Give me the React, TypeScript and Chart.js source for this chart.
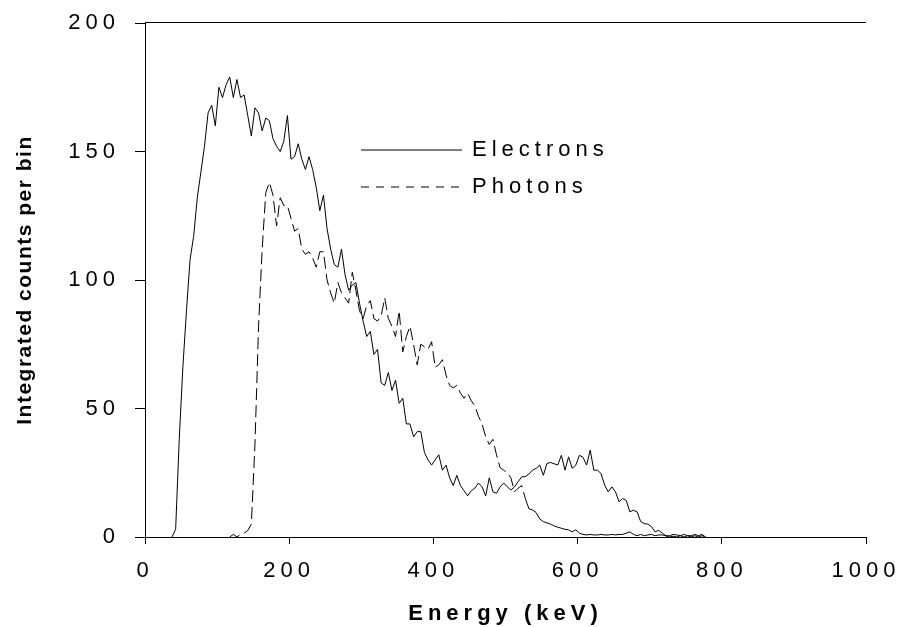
import React, { useEffect, useRef } from 'react';
import { Chart, registerables } from 'chart.js';

Chart.register(...registerables);

// ---------- data ----------
const ENERGY_KEV = [
  37.5, 42.5, 47.5, 52.5, 57.5, 62.5, 67.5, 72.5, 77.5, 82.5,
  87.5, 92.5, 97.5, 102.5, 107.5, 112.5, 117.5, 122.5, 127.5, 132.5,
  137.5, 142.5, 147.5, 152.5, 157.5, 162.5, 167.5, 172.5, 177.5, 182.5,
  187.5, 192.5, 197.5, 202.5, 207.5, 212.5, 217.5, 222.5, 227.5, 232.5,
  237.5, 242.5, 247.5, 252.5, 257.5, 262.5, 267.5, 272.5, 277.5, 282.5,
  287.5, 292.5, 297.5, 302.5, 307.5, 312.5, 317.5, 322.5, 327.5, 332.5,
  337.5, 342.5, 347.5, 352.5, 357.5, 362.5, 367.5, 372.5, 377.5, 382.5,
  387.5, 392.5, 397.5, 402.5, 407.5, 412.5, 417.5, 422.5, 427.5, 432.5,
  437.5, 442.5, 447.5, 452.5, 457.5, 462.5, 467.5, 472.5, 477.5, 482.5,
  487.5, 492.5, 497.5, 502.5, 507.5, 512.5, 517.5, 522.5, 527.5, 532.5,
  537.5, 542.5, 547.5, 552.5, 557.5, 562.5, 567.5, 572.5, 577.5, 582.5,
  587.5, 592.5, 597.5, 602.5, 607.5, 612.5, 617.5, 622.5, 627.5, 632.5,
  637.5, 642.5, 647.5, 652.5, 657.5, 662.5, 667.5, 672.5, 677.5, 682.5,
  687.5, 692.5, 697.5, 702.5, 707.5, 712.5, 717.5, 722.5, 727.5, 732.5,
  737.5, 742.5, 747.5, 752.5, 757.5, 762.5, 767.5, 772.5, 777.5,
];

const ELECTRONS = [
  0, 3, 38, 66, 88, 108, 117, 132, 142, 152,
  165, 168, 160, 175, 171, 176, 179, 171, 178, 171,
  172, 164, 156, 167, 165, 158, 163, 162, 155, 152,
  150, 154, 164, 147, 148, 153, 147, 143, 148, 143,
  136, 127, 133, 120, 112, 106, 105, 112, 102, 96,
  98, 99, 91, 84, 78, 80, 71, 73, 60, 59,
  64, 57, 61, 52, 54, 44, 44, 39, 41, 41,
  33, 30, 28, 30, 32, 26, 28, 23, 20, 24,
  20, 18, 16, 18, 19, 21, 19.5, 16, 23, 17.6,
  17, 19.5, 21, 19.5, 18.3, 19.5, 21.5, 23.4, 23.5, 24.5,
  26, 26.7, 28, 24, 28.6, 29, 28.5, 28, 31.8, 26,
  31.2, 26.7, 28, 31.8, 31, 28, 33.8, 26, 26, 24.7,
  20.2, 17.6, 19.5, 17.6, 13.7, 15, 14.2, 9.8, 10.4, 9.8,
  6, 5.2, 5, 4, 2, 2.6, 1.5, 0.4, 0, 0.3,
  0, 0.5, 0, 0.5, 0, 0.5, 0, 0.5, 0,
];

const PHOTONS: (number | null)[] = [
  null, null, null, null, null, null, null, null, null, null,
  null, null, null, null, null, null, 0, 1, 0, 1,
  1.5, 2.5, 5, 36, 82, 112, 134, 138, 133, 121,
  132, 129, 129, 124, 119, 120, 112, 110, 111, 108.5,
  105, 111, 111, 100, 95, 91, 99, 95, 93, 91,
  103, 96, 88, 85, 90, 92, 85, 84, 86, 93,
  85, 82, 78, 88, 72, 78, 82, 75, 67, 75,
  74, 73, 76, 66, 67, 69, 63, 59, 58, 59,
  56, 54, 56, 53, 51, 47, 44, 39, 36, 38,
  32, 27, 26, 25, 23, 17.6, 19, 20, 15, 11,
  10.5, 9.5, 7, 6, 5.5, 5, 4.3, 3.8, 3.4, 3,
  2.8, 2, 2.8, 1.5, 1, 0.8, 1, 0.8, 0.8, 1,
  0.8, 0.8, 1, 0.8, 1, 1, 1.5, 2, 1, 0.5,
  1, 0.5, 0.8, 1, 0.5, 0.8, 0.8, 0.5, 0.5, 1,
  0.8, 0.5, 1, 0.5, 0.5, 1, 0.5, 1, 0,
];

const SERIES_LABELS = ['Electrons', 'Photons'];
const X_TICKS = [0, 200, 400, 600, 800, 1000];
const Y_TICKS = [0, 50, 100, 150, 200];
const X_TITLE = 'Energy (keV)';
const Y_TITLE = 'Integrated counts per bin';

// ---------- styling ----------
const FONT_FAMILY = '"Liberation Sans", Arial, Helvetica, sans-serif';
const SPACED = '5px';
const PHOTON_DASH = [12, 5];

const spacingPlugin = {
  id: 'letterSpacing',
  beforeDraw(chart: any) {
    chart.ctx.letterSpacing = SPACED;
  },
  afterLayout(chart: any) {
    const ys = chart.scales.y;
    if (ys && !ys.__patched) {
      const orig = ys.drawTitle;
      ys.drawTitle = function (...args: any[]) {
        const c = this.ctx;
        const prev = c.letterSpacing;
        c.letterSpacing = '1.5px';
        orig.apply(this, args);
        c.letterSpacing = prev;
      };
      ys.__patched = true;
    }
  },
};

const framePlugin = {
  id: 'topFrame',
  afterDraw(chart: any) {
    const { ctx, chartArea } = chart;
    const y = Math.round(chartArea.top) - 0.5;
    ctx.save();
    ctx.strokeStyle = '#000';
    ctx.lineWidth = 1;
    ctx.setLineDash([]);
    ctx.beginPath();
    ctx.moveTo(chartArea.left, y);
    ctx.lineTo(chartArea.right, y);
    ctx.stroke();
    ctx.restore();
  },
};

const legendPlugin = {
  id: 'insetLegend',
  afterDraw(chart: any, _args: any, opts: any) {
    const { ctx } = chart;
    ctx.save();
    ctx.letterSpacing = SPACED;
    ctx.font = `22px ${FONT_FAMILY}`;
    ctx.textBaseline = 'middle';
    ctx.textAlign = 'left';
    chart.data.datasets.forEach((ds: any, i: number) => {
      const y = opts.rows[i];
      ctx.strokeStyle = '#000';
      ctx.lineWidth = 1;
      ctx.setLineDash(i === 1 ? opts.dash : []);
      ctx.beginPath();
      ctx.moveTo(opts.x1, y);
      ctx.lineTo(opts.x2, y);
      ctx.stroke();
      ctx.setLineDash([]);
      ctx.fillStyle = '#000';
      ctx.fillText(ds.label, opts.textX, y);
    });
    ctx.restore();
  },
};

export default function App() {
  const canvasRef = useRef<HTMLCanvasElement | null>(null);

  useEffect(() => {
    if (!canvasRef.current) return;
    const electronPts = ENERGY_KEV.map((e, i) => ({ x: e, y: ELECTRONS[i] }));
    const photonPts = ENERGY_KEV.map((e, i) => ({ x: e, y: PHOTONS[i] })).filter(
      (p) => p.y !== null
    );

    const chart = new Chart(canvasRef.current, {
      type: 'line',
      data: {
        datasets: [
          {
            label: SERIES_LABELS[0],
            data: electronPts,
            borderColor: '#000',
            borderWidth: 1,
            pointRadius: 0,
            fill: false,
            tension: 0,
          },
          {
            label: SERIES_LABELS[1],
            data: photonPts as any,
            borderColor: '#000',
            borderWidth: 1,
            borderDash: PHOTON_DASH,
            pointRadius: 0,
            fill: false,
            tension: 0,
            segment: {
              borderDash: (c: any) => (c.p0.parsed.x >= 527 ? [] : PHOTON_DASH),
            },
          },
        ],
      },
      options: {
        responsive: false,
        animation: false,
        events: [],
        layout: { padding: { top: 23, right: 32, left: 0, bottom: 0 } },
        plugins: {
          legend: { display: false },
          tooltip: { enabled: false },
          insetLegend: { x1: 361, x2: 462, textX: 472, rows: [150, 187], dash: [8, 7] },
        } as any,
        scales: {
          x: {
            type: 'linear',
            min: 0,
            max: 1000,
            afterBuildTicks: (s: any) => {
              s.ticks = X_TICKS.map((v) => ({ value: v }));
            },
            afterFit: (s: any) => {
              s.height = 90;
              s.paddingLeft = 0;
              s.paddingRight = 0;
            },
            ticks: {
              color: '#000',
              font: { family: FONT_FAMILY, size: 22 },
              padding: 14,
              maxRotation: 0,
              autoSkip: false,
              callback: (v: any) => String(v),
            },
            grid: {
              drawOnChartArea: false,
              drawTicks: true,
              tickLength: 7,
              tickColor: '#000',
              tickWidth: 1,
            },
            border: { display: true, color: '#000', width: 1 },
            title: {
              display: true,
              text: X_TITLE,
              color: '#000',
              font: { family: FONT_FAMILY, size: 22, weight: 'bold' },
              padding: { top: 0, bottom: 0 },
            },
          },
          y: {
            type: 'linear',
            min: 0,
            max: 200,
            afterBuildTicks: (s: any) => {
              s.ticks = Y_TICKS.map((v) => ({ value: v }));
            },
            afterFit: (s: any) => {
              s.width = 145;
              s.paddingTop = 0;
              s.paddingBottom = 0;
            },
            ticks: {
              color: '#000',
              font: { family: FONT_FAMILY, size: 22 },
              padding: 15,
              autoSkip: false,
              callback: (v: any) => String(v),
            },
            grid: {
              drawOnChartArea: false,
              drawTicks: true,
              tickLength: 10,
              tickColor: '#000',
              tickWidth: 1,
            },
            border: { display: true, color: '#000', width: 1 },
            title: {
              display: true,
              text: Y_TITLE,
              color: '#000',
              font: { family: FONT_FAMILY, size: 21, weight: 'bold' },
              padding: { top: 13, bottom: 0 },
            },
          },
        },
      } as any,
      plugins: [spacingPlugin, framePlugin, legendPlugin],
    });

    return () => chart.destroy();
  }, []);

  return (
    <div style={{ position: 'absolute', left: 0, top: 0, width: 898, height: 627, background: '#fff' }}>
      <canvas ref={canvasRef} width={898} height={627} style={{ display: 'block' }} />
    </div>
  );
}
